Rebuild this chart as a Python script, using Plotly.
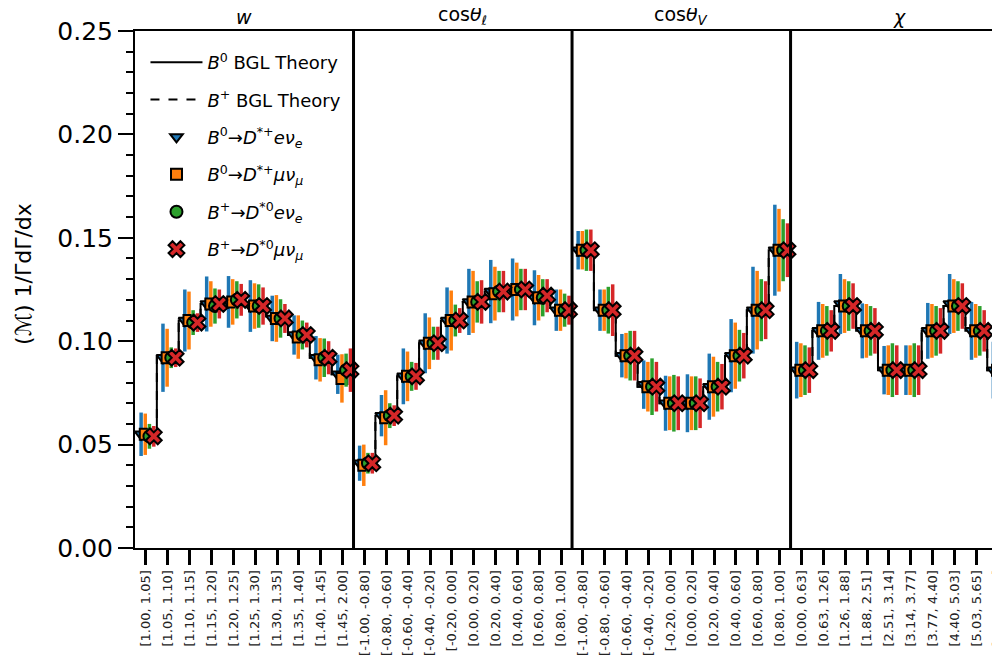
import plotly.graph_objects as go

# ---------------- data ----------------
w_labels = ["[1.00, 1.05]", "[1.05, 1.10]", "[1.10, 1.15]", "[1.15, 1.20]", "[1.20, 1.25]",
            "[1.25, 1.30]", "[1.30, 1.35]", "[1.35, 1.40]", "[1.40, 1.45]", "[1.45, 2.00]"]
cos_labels = ["[-1.00, -0.80]", "[-0.80, -0.60]", "[-0.60, -0.40]", "[-0.40, -0.20]", "[-0.20, 0.00]",
              "[0.00, 0.20]", "[0.20, 0.40]", "[0.40, 0.60]", "[0.60, 0.80]", "[0.80, 1.00]"]
chi_labels = ["[0.00, 0.63]", "[0.63, 1.26]", "[1.26, 1.88]", "[1.88, 2.51]", "[2.51, 3.14]",
              "[3.14, 3.77]", "[3.77, 4.40]", "[4.40, 5.03]", "[5.03, 5.65]", "[5.65, 6.28]"]
bin_labels = w_labels + cos_labels + cos_labels + chi_labels

panel_titles = ["<i>w</i>", "cos<i>θ</i><sub><i>ℓ</i></sub>", "cos<i>θ</i><sub><i>V</i></sub>", "<i>χ</i>"]
y_title = "(ℳ) 1/ΓdΓ/dx"

# theory step heights (per panel)
theory_b0 = [
    [0.056, 0.093, 0.110, 0.118, 0.120, 0.118, 0.112, 0.103, 0.092, 0.084],
    [0.041, 0.064, 0.083, 0.099, 0.110, 0.119, 0.124, 0.125, 0.122, 0.116],
    [0.144, 0.115, 0.093, 0.078, 0.070, 0.070, 0.078, 0.093, 0.115, 0.144],
    [0.086, 0.105, 0.117, 0.105, 0.086, 0.086, 0.105, 0.117, 0.105, 0.086],
]
theory_bp = [
    [0.056, 0.093, 0.110, 0.118, 0.120, 0.118, 0.112, 0.103, 0.092, 0.084],
    [0.041, 0.064, 0.083, 0.099, 0.110, 0.119, 0.124, 0.125, 0.122, 0.116],
    [0.144, 0.115, 0.093, 0.078, 0.070, 0.070, 0.078, 0.093, 0.115, 0.144],
    [0.086, 0.105, 0.117, 0.105, 0.086, 0.086, 0.105, 0.117, 0.105, 0.086],
]

# measured values (40 bins: w, cos theta_l, cos theta_V, chi)
val_b0_e = [0.055, 0.092, 0.110, 0.118, 0.119, 0.117, 0.111, 0.103, 0.092, 0.084,
            0.041, 0.064, 0.083, 0.099, 0.110, 0.119, 0.124, 0.125, 0.121, 0.115,
            0.144, 0.115, 0.093, 0.079, 0.070, 0.070, 0.078, 0.093, 0.115, 0.144,
            0.086, 0.105, 0.118, 0.105, 0.086, 0.086, 0.105, 0.118, 0.105, 0.086]
val_b0_mu = [0.055, 0.092, 0.110, 0.118, 0.119, 0.117, 0.111, 0.102, 0.091, 0.082,
             0.040, 0.063, 0.083, 0.099, 0.110, 0.119, 0.123, 0.125, 0.121, 0.115,
             0.144, 0.115, 0.093, 0.078, 0.070, 0.070, 0.078, 0.093, 0.115, 0.144,
             0.086, 0.105, 0.117, 0.105, 0.086, 0.086, 0.105, 0.117, 0.105, 0.086]
val_bp_e = [0.054, 0.092, 0.109, 0.117, 0.120, 0.117, 0.111, 0.103, 0.092, 0.086,
            0.041, 0.064, 0.083, 0.099, 0.110, 0.119, 0.124, 0.125, 0.121, 0.115,
            0.144, 0.115, 0.093, 0.078, 0.070, 0.070, 0.078, 0.093, 0.115, 0.144,
            0.086, 0.105, 0.117, 0.105, 0.086, 0.086, 0.105, 0.117, 0.105, 0.086]
val_bp_mu = [0.054, 0.092, 0.109, 0.118, 0.120, 0.117, 0.111, 0.103, 0.092, 0.086,
             0.041, 0.064, 0.083, 0.099, 0.110, 0.119, 0.124, 0.125, 0.122, 0.115,
             0.144, 0.115, 0.093, 0.078, 0.070, 0.070, 0.078, 0.093, 0.115, 0.144,
             0.086, 0.105, 0.117, 0.105, 0.086, 0.086, 0.105, 0.117, 0.105, 0.086]

err_b0_e = [0.0105, 0.0165, 0.015, 0.0133, 0.0125, 0.0125, 0.011, 0.0095, 0.0105, 0.0095,
            0.0085, 0.010, 0.0135, 0.0145, 0.016, 0.016, 0.0153, 0.015, 0.0133, 0.010,
            0.0093, 0.010, 0.0105, 0.0117, 0.0133, 0.014, 0.016, 0.0177, 0.021, 0.022,
            0.0137, 0.014, 0.0145, 0.0133, 0.0117, 0.012, 0.0135, 0.0145, 0.014, 0.0137]
err_b0_mu = [0.010, 0.014, 0.014, 0.011, 0.011, 0.011, 0.0113, 0.0105, 0.0105, 0.0117,
             0.010, 0.0133, 0.012, 0.0125, 0.0145, 0.015, 0.013, 0.013, 0.011, 0.010,
             0.0093, 0.010, 0.011, 0.012, 0.013, 0.013, 0.0145, 0.016, 0.019, 0.020,
             0.013, 0.013, 0.013, 0.013, 0.012, 0.012, 0.013, 0.013, 0.013, 0.013]
err_bp_e = [0.006, 0.005, 0.006, 0.0085, 0.009, 0.0105, 0.0093, 0.007, 0.0093, 0.008,
            0.005, 0.006, 0.007, 0.008, 0.0077, 0.010, 0.010, 0.010, 0.009, 0.008,
            0.010, 0.0113, 0.012, 0.0137, 0.0137, 0.013, 0.012, 0.0125, 0.015, 0.015,
            0.012, 0.012, 0.012, 0.012, 0.013, 0.013, 0.012, 0.012, 0.012, 0.012]
err_bp_mu = [0.005, 0.0045, 0.0045, 0.007, 0.0077, 0.009, 0.007, 0.006, 0.008, 0.0105,
             0.005, 0.005, 0.0065, 0.008, 0.006, 0.0105, 0.010, 0.010, 0.008, 0.007,
             0.010, 0.0125, 0.012, 0.012, 0.013, 0.012, 0.011, 0.011, 0.014, 0.013,
             0.011, 0.010, 0.011, 0.011, 0.012, 0.012, 0.011, 0.011, 0.010, 0.011]

series = [
    ("<i>B</i><sup>0</sup>→<i>D</i><sup>*+</sup><i>eν<sub>e</sub></i>", val_b0_e, err_b0_e, "#1f77b4", "triangle-down", 11, -0.22),
    ("<i>B</i><sup>0</sup>→<i>D</i><sup>*+</sup><i>μν<sub>μ</sub></i>", val_b0_mu, err_b0_mu, "#ff7f0e", "square", 11, -0.03),
    ("<i>B</i><sup>+</sup>→<i>D</i><sup>*0</sup><i>eν<sub>e</sub></i>", val_bp_e, err_bp_e, "#2ca02c", "circle", 12, 0.16),
    ("<i>B</i><sup>+</sup>→<i>D</i><sup>*0</sup><i>μν<sub>μ</sub></i>", val_bp_mu, err_bp_mu, "#d62728", "x", 14, 0.36),
]

n_panels = 4
n_bins = 10
x_right = 39.95

fig = go.Figure()


def step_xy(theory):
    xs, ys = [], []
    for p in range(n_panels):
        vals = theory[p]
        for i in range(n_bins + 1):
            xs.append(p * n_bins + i)
            ys.append(vals[min(i, n_bins - 1)])
        xs.append(None)
        ys.append(None)
    return xs, ys


xs, ys = step_xy(theory_b0)
fig.add_trace(go.Scatter(x=xs, y=ys, mode="lines", line=dict(color="black", width=2, shape="hv"),
                         name="<i>B</i><sup>0</sup> BGL Theory", legendgroup="g1", connectgaps=False))
xs, ys = step_xy(theory_bp)
fig.add_trace(go.Scatter(x=xs, y=ys, mode="lines", line=dict(color="black", width=2, shape="hv", dash="dash"),
                         name="<i>B</i><sup>+</sup> BGL Theory", legendgroup="g2", connectgaps=False))

for k, (name, vals, errs, color, sym, size, off) in enumerate(series):
    xpos = [i + 0.5 + off for i in range(len(vals))]
    fig.add_trace(go.Scatter(
        x=xpos, y=vals, mode="markers", name=name, legendgroup=f"g{k + 3}",
        marker=dict(symbol=sym, size=size, color=color, line=dict(color="black", width=2)),
        error_y=dict(type="data", array=errs, visible=True, color=color, thickness=3.5, width=0),
    ))

shapes = []
for p in range(1, n_panels):
    shapes.append(dict(type="line", xref="x", yref="paper", x0=p * n_bins, x1=p * n_bins, y0=0, y1=1,
                       line=dict(color="black", width=3), layer="above"))

annotations = []
for p, t in enumerate(panel_titles):
    annotations.append(dict(x=p * n_bins + n_bins / 2, y=1.0, xref="x", yref="paper", text=t,
                            showarrow=False, yanchor="bottom", yshift=1,
                            font=dict(size=19, color="black")))
annotations.append(dict(x=-0.127, y=0.53, xref="paper", yref="paper", text=y_title, textangle=-90,
                        showarrow=False, xanchor="center", yanchor="middle",
                        font=dict(size=22, color="black")))

fig.update_layout(
    width=1000, height=666,
    margin=dict(l=127, r=0, t=23, b=126),
    paper_bgcolor="white", plot_bgcolor="white",
    font=dict(family="DejaVu Sans", color="black"),
    shapes=shapes, annotations=annotations,
    showlegend=True,
    legend=dict(x=0.012, y=0.975, xanchor="left", yanchor="top", bgcolor="rgba(255,255,255,0)",
                font=dict(size=18), tracegroupgap=11, traceorder="grouped", itemwidth=52),
    xaxis=dict(range=[0, x_right], tickvals=[i + 0.5 for i in range(len(bin_labels))], ticktext=bin_labels,
               tickangle=-90, tickfont=dict(size=13, color="#222"), ticks="outside", ticklen=15, tickwidth=2.5,
               tickcolor="black", showline=True, linecolor="black", linewidth=2, mirror=True,
               showgrid=False, zeroline=False, automargin=False),
    yaxis=dict(range=[0, 0.25], tickvals=[0, 0.05, 0.10, 0.15, 0.20, 0.25], tickformat=".2f",
               tickfont=dict(size=25), ticks="outside", ticklen=15, tickwidth=2, tickcolor="black",
               minor=dict(dtick=0.01, ticks="outside", ticklen=7, tickwidth=1.5, tickcolor="black", showgrid=False),
               showline=True, linecolor="black", linewidth=2, showgrid=False, zeroline=False, automargin=False),
)

fig.write_html("out.html")
